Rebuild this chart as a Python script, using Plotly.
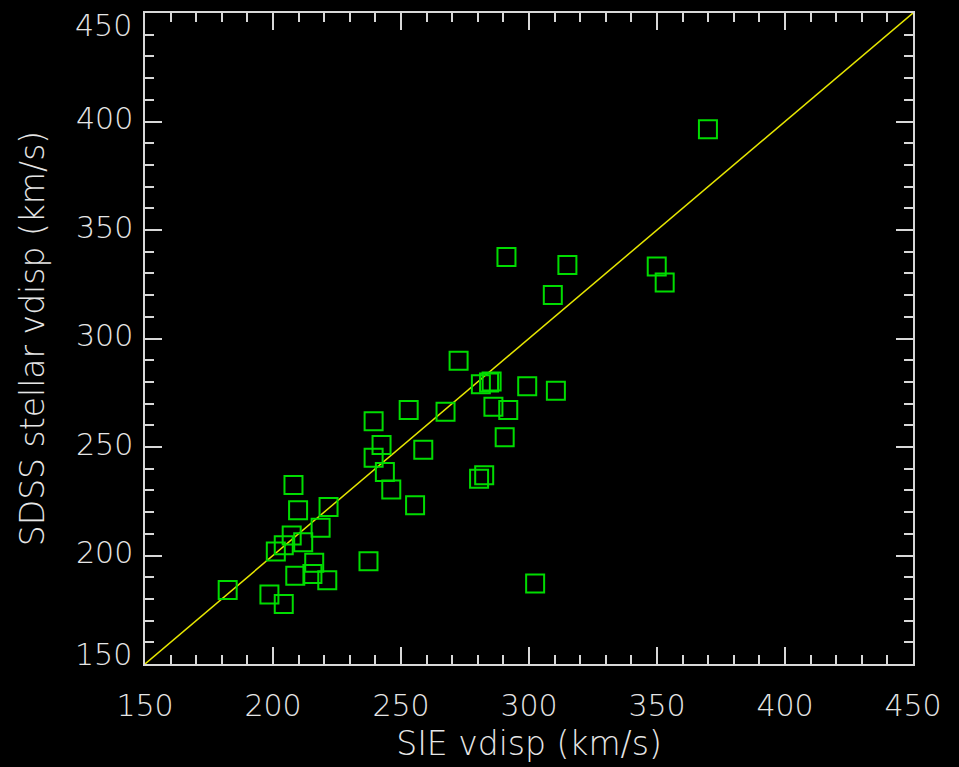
import plotly.graph_objects as go

# Lens sample: SIE-model velocity dispersion vs SDSS stellar velocity dispersion (km/s)
sie_vdisp = [369.9, 291.2, 315.0, 349.9, 353.0, 309.3, 272.5, 281.2, 284.4, 285.4,
             299.3, 310.5, 286.1, 291.9, 253.0, 267.4, 239.3, 290.5, 242.4, 239.3,
             258.7, 243.7, 280.5, 282.5, 246.2, 208.0, 255.5, 209.8, 221.7, 218.6,
             207.3, 211.8, 204.2, 201.1, 216.1, 237.3, 208.7, 215.4, 221.2, 182.3,
             198.6, 204.2, 302.4]
sdss_vdisp = [396.4, 337.6, 333.9, 333.2, 325.8, 320.0, 289.8, 278.9, 279.7, 280.2,
              278.0, 275.9, 268.6, 267.0, 267.0, 266.3, 261.9, 254.5, 250.9, 245.0,
              248.7, 238.5, 235.4, 237.0, 230.4, 232.5, 223.1, 220.8, 222.3, 212.8,
              209.2, 206.1, 204.7, 201.8, 196.7, 197.4, 190.7, 191.5, 188.6, 184.1,
              182.0, 177.6, 187.1]

axis_range = [150, 450]
tick_vals = [150, 200, 250, 300, 350, 400, 450]
tick_text = ["150", "200", "250", "300", "350", "400", "450"]
minor_step = 10

fg = "#e6e6e6"
label_font = dict(family="DejaVu Sans", size=30, color=fg, weight=200)
title_font = dict(family="DejaVu Sans", size=33, color=fg, weight=200)

fig = go.Figure()

# one-to-one reference line across the full axis range
fig.add_trace(go.Scatter(
    x=axis_range, y=axis_range, mode="lines",
    line=dict(color="#e6e600", width=1.5),
    hoverinfo="skip", showlegend=False,
))

fig.add_trace(go.Scatter(
    x=sie_vdisp, y=sdss_vdisp, mode="markers",
    marker=dict(symbol="square-open", size=18, color="#00dc00",
                line=dict(color="#00dc00", width=2)),
    showlegend=False,
))

axis_common = dict(
    range=axis_range,
    ticks="inside",
    ticklen=17,
    tickwidth=1.5,
    tickcolor="#d8d8d8",
    showline=True,
    linecolor="#d8d8d8",
    linewidth=1.5,
    mirror="ticks",
    showgrid=False,
    zeroline=False,
    tickfont=label_font,
    minor=dict(dtick=minor_step, tick0=axis_range[0], ticks="inside",
               ticklen=9, tickwidth=1.5, tickcolor="#d8d8d8", showgrid=False),
)

fig.update_xaxes(**axis_common, tickmode="array", tickvals=tick_vals, ticktext=tick_text,
                 ticklabelstandoff=14,
                 title=dict(text="SIE vdisp (km/s)", font=title_font, standoff=10))

# inner y labels sit on their ticks; the two end labels are pulled inside the axis span
fig.update_yaxes(**axis_common, tickmode="array", tickvals=tick_vals[1:-1],
                 ticktext=tick_text[1:-1], ticklabelstandoff=4, ticklabelshift=-3,
                 title=dict(text="SDSS stellar vdisp (km/s)", font=title_font, standoff=21))

for val, txt, shift in [(tick_vals[0], tick_text[0], 10), (tick_vals[-1], tick_text[-1], -12)]:
    fig.add_annotation(x=0, xref="paper", y=val, yref="y", text=txt, showarrow=False,
                       xanchor="right", yanchor="middle", xshift=-11, yshift=shift,
                       font=label_font)

fig.update_layout(
    width=959, height=767,
    margin=dict(l=145, r=46, t=11, b=101),
    paper_bgcolor="black",
    plot_bgcolor="black",
)

fig.write_html("out.html")
